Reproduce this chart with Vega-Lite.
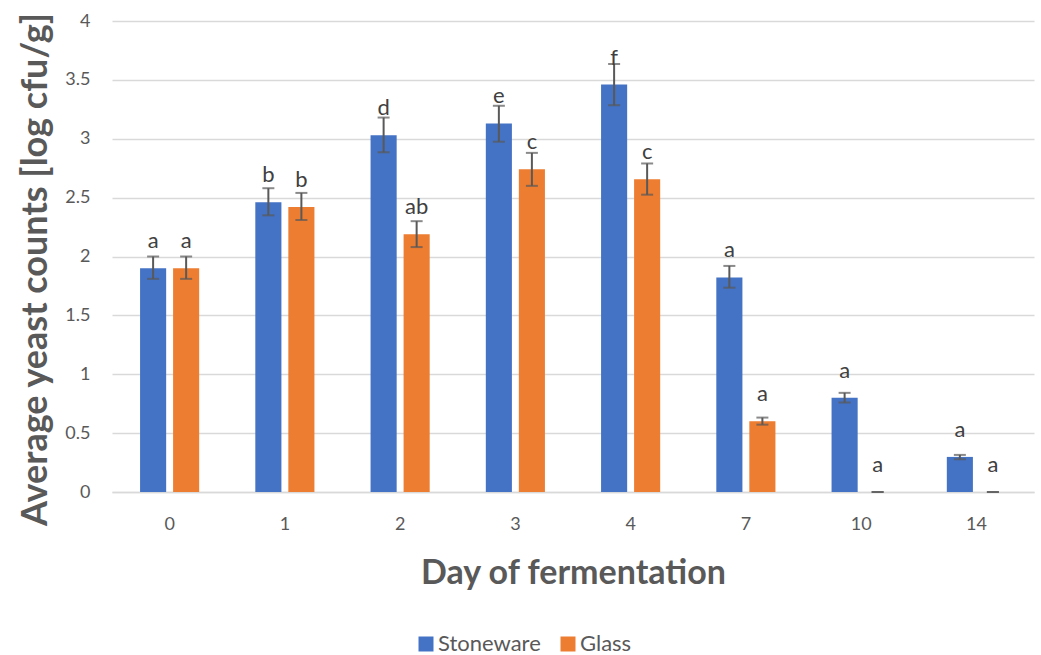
{
  "$schema": "https://vega.github.io/schema/vega-lite/v6.json",
  "width": 922,
  "height": 471,
  "autosize": {"type": "none"},
  "padding": {"left": 112, "top": 21, "right": 7, "bottom": 163},
  "background": "white",
  "config": {
    "font": "Lato",
    "view": {"stroke": null}
  },
  "data": {
    "values": [
      {"day": "0", "material": "Stoneware", "value": 1.9, "lo": 1.81, "hi": 2.0, "label": "a"},
      {"day": "0", "material": "Glass", "value": 1.9, "lo": 1.81, "hi": 2.0, "label": "a"},
      {"day": "1", "material": "Stoneware", "value": 2.46, "lo": 2.35, "hi": 2.58, "label": "b"},
      {"day": "1", "material": "Glass", "value": 2.42, "lo": 2.31, "hi": 2.54, "label": "b"},
      {"day": "2", "material": "Stoneware", "value": 3.03, "lo": 2.885, "hi": 3.18, "label": "d"},
      {"day": "2", "material": "Glass", "value": 2.19, "lo": 2.08, "hi": 2.3, "label": "ab"},
      {"day": "3", "material": "Stoneware", "value": 3.13, "lo": 2.975, "hi": 3.28, "label": "e"},
      {"day": "3", "material": "Glass", "value": 2.74, "lo": 2.6, "hi": 2.88, "label": "c"},
      {"day": "4", "material": "Stoneware", "value": 3.46, "lo": 3.285, "hi": 3.635, "label": "f"},
      {"day": "4", "material": "Glass", "value": 2.655, "lo": 2.525, "hi": 2.79, "label": "c"},
      {"day": "7", "material": "Stoneware", "value": 1.822, "lo": 1.735, "hi": 1.92, "label": "a"},
      {"day": "7", "material": "Glass", "value": 0.6, "lo": 0.572, "hi": 0.632, "label": "a"},
      {"day": "10", "material": "Stoneware", "value": 0.8, "lo": 0.76, "hi": 0.842, "label": "a"},
      {"day": "10", "material": "Glass", "value": 0, "lo": 0, "hi": 0, "label": "a"},
      {"day": "14", "material": "Stoneware", "value": 0.298, "lo": 0.278, "hi": 0.315, "label": "a"},
      {"day": "14", "material": "Glass", "value": 0, "lo": 0, "hi": 0, "label": "a"}
    ]
  },
  "encoding": {
    "x": {
      "field": "day",
      "type": "nominal",
      "sort": ["0", "1", "2", "3", "4", "7", "10", "14"],
      "scale": {"paddingInner": 0, "paddingOuter": 0},
      "axis": {
        "title": "Day of fermentation",
        "titleFont": "Lato",
        "titleFontSize": 34,
        "titleFontWeight": "bold",
        "titleColor": "#595959",
        "titlePadding": 23,
        "labelAngle": 0,
        "labelFontSize": 18,
        "labelColor": "#595959",
        "labelPadding": 23,
        "ticks": false,
        "domain": true,
        "domainColor": "#D9D9D9",
        "domainWidth": 1.5,
        "grid": false
      }
    },
    "xOffset": {
      "field": "material",
      "type": "nominal",
      "sort": ["Stoneware", "Glass"],
      "scale": {"paddingInner": 0.21, "paddingOuter": 0.85}
    }
  },
  "layer": [
    {
      "mark": {"type": "bar"},
      "encoding": {
        "y": {
          "field": "value",
          "type": "quantitative",
          "scale": {"domain": [0, 4]},
          "axis": {
            "title": "Average yeast counts [log cfu/g]",
            "titleFont": "Lato",
            "titleFontSize": 36,
            "titleFontWeight": "bold",
            "titleColor": "#595959",
            "titlePadding": 10,
            "titleY": 248,
            "values": [0, 0.5, 1, 1.5, 2, 2.5, 3, 3.5, 4],
            "format": ".1~f",
            "labelFontSize": 18,
            "labelColor": "#595959",
            "labelPadding": 22,
            "ticks": false,
            "domain": false,
            "grid": true,
            "gridColor": "#D9D9D9",
            "gridWidth": 1.5
          }
        },
        "color": {
          "field": "material",
          "type": "nominal",
          "sort": ["Stoneware", "Glass"],
          "scale": {"domain": ["Stoneware", "Glass"], "range": ["#4472C4", "#ED7D31"]},
          "legend": {
            "title": null,
            "orient": "none",
            "direction": "horizontal",
            "legendX": 303,
            "legendY": 612,
            "symbolType": "square",
            "symbolSize": 225,
            "symbolStrokeWidth": 0,
            "labelFontSize": 22,
            "labelColor": "#595959",
            "columnPadding": 16,
            "labelOffset": 1
          }
        }
      }
    },
    {
      "mark": {"type": "rule", "color": "#595959", "strokeWidth": 2},
      "encoding": {
        "y": {"field": "lo", "type": "quantitative"},
        "y2": {"field": "hi"}
      }
    },
    {
      "mark": {"type": "tick", "color": "#595959", "thickness": 2, "size": 12},
      "encoding": {
        "y": {"field": "lo", "type": "quantitative"}
      }
    },
    {
      "mark": {"type": "tick", "color": "#595959", "thickness": 2, "size": 12},
      "encoding": {
        "y": {"field": "hi", "type": "quantitative"}
      }
    },
    {
      "mark": {"type": "text", "baseline": "alphabetic", "dy": -20, "fontSize": 22, "color": "#404040", "font": "Lato"},
      "encoding": {
        "y": {"field": "value", "type": "quantitative"},
        "text": {"field": "label"}
      }
    }
  ]
}
